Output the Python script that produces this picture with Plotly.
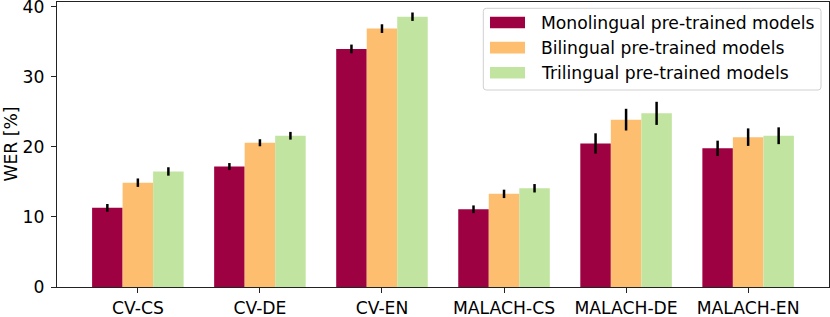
import plotly.graph_objects as go

categories = ["CV-CS", "CV-DE", "CV-EN", "MALACH-CS", "MALACH-DE", "MALACH-EN"]
series_names = ["Monolingual pre-trained models", "Bilingual pre-trained models", "Trilingual pre-trained models"]
mono = [11.3, 17.2, 34.0, 11.1, 20.5, 19.8]
bi = [14.9, 20.6, 36.9, 13.3, 23.9, 21.4]
tri = [16.5, 21.6, 38.6, 14.1, 24.8, 21.6]
mono_err = [0.55, 0.5, 0.62, 0.55, 1.45, 1.1]
bi_err = [0.6, 0.5, 0.62, 0.6, 1.55, 1.25]
tri_err = [0.6, 0.55, 0.6, 0.6, 1.65, 1.2]
colors = ["#9e0142", "#fdbe6f", "#c1e5a0"]
y_ticks = [0, 10, 20, 30, 40]

W, H = 830, 317
ML, MR, MT, MB = 57, 1, 2, 30
PW, PH = W - ML - MR, H - MT - MB

def px_x(p):
    return (p - ML) / PW

def px_y(p):
    return (H - MB - p) / PH

FONT = "DejaVu Sans"
FS = 17.2

fig = go.Figure()
x_idx = list(range(len(categories)))
for name, vals, errs, col in zip(series_names, [mono, bi, tri], [mono_err, bi_err, tri_err], colors):
    fig.add_trace(go.Bar(
        x=x_idx, y=vals, name=name,
        marker=dict(color=col, line=dict(width=0)),
        error_y=dict(type="data", array=errs, color="black", thickness=2.5, width=0),
        showlegend=False,
    ))

fig.update_layout(
    width=W, height=H,
    margin=dict(l=ML, r=MR, t=MT, b=MB, pad=0, autoexpand=False),
    plot_bgcolor="white", paper_bgcolor="white",
    barmode="group", bargap=0.25, bargroupgap=0,
    font=dict(family=FONT, size=FS, color="black"),
)
fig.update_xaxes(
    range=[-0.6625, 5.6625], tickmode="array", tickvals=x_idx, ticktext=categories,
    showline=True, mirror=True, linecolor="#222", linewidth=1.2,
    ticks="outside", ticklen=5, tickwidth=1, tickcolor="#222",
    showgrid=False, zeroline=False, ticklabelstandoff=0, automargin=False,
    ticklabeloverflow="allow",
)
fig.update_yaxes(
    range=[0, 40.7], tickmode="array", tickvals=y_ticks,
    showline=True, mirror=True, linecolor="#222", linewidth=1.2,
    ticks="outside", ticklen=5, tickwidth=1, tickcolor="#222",
    showgrid=False, zeroline=False, ticklabelstandoff=3, automargin=False,
    ticklabeloverflow="allow",
)

# y-axis title
fig.add_annotation(text="WER [%]", x=px_x(10), y=0.5, xref="paper", yref="paper",
                   textangle=-90, showarrow=False, xanchor="center", yanchor="middle",
                   font=dict(family=FONT, size=FS, color="black"))

# legend box (rounded rectangle)
bx0, bx1, by0, by1, r = 483.3, 821.0, 8.3, 90.0, 3.0
path = (
    f"M {px_x(bx0 + r)} {px_y(by0)} L {px_x(bx1 - r)} {px_y(by0)} "
    f"Q {px_x(bx1)} {px_y(by0)} {px_x(bx1)} {px_y(by0 + r)} "
    f"L {px_x(bx1)} {px_y(by1 - r)} Q {px_x(bx1)} {px_y(by1)} {px_x(bx1 - r)} {px_y(by1)} "
    f"L {px_x(bx0 + r)} {px_y(by1)} Q {px_x(bx0)} {px_y(by1)} {px_x(bx0)} {px_y(by1 - r)} "
    f"L {px_x(bx0)} {px_y(by0 + r)} Q {px_x(bx0)} {px_y(by0)} {px_x(bx0 + r)} {px_y(by0)} Z"
)
fig.add_shape(type="path", path=path, xref="paper", yref="paper",
              line=dict(color="#d0d0d0", width=1), fillcolor="rgba(255,255,255,0.8)", layer="above")

centers = [22.5, 47.6, 72.8]
for name, col, cy in zip(series_names, colors, centers):
    fig.add_shape(type="rect", xref="paper", yref="paper",
                  x0=px_x(490), x1=px_x(525), y0=px_y(cy + 5.8), y1=px_y(cy - 5.8),
                  fillcolor=col, line=dict(width=0), layer="above")
    fig.add_annotation(text=name, x=px_x(539.3), y=px_y(cy + 0.5), xref="paper", yref="paper",
                       showarrow=False, xanchor="left", yanchor="middle",
                       font=dict(family=FONT, size=FS, color="black"))

fig.write_html("out.html", config={"displayModeBar": False, "staticPlot": True},
               post_script="document.body.style.margin='0';document.body.style.overflow='hidden';")
